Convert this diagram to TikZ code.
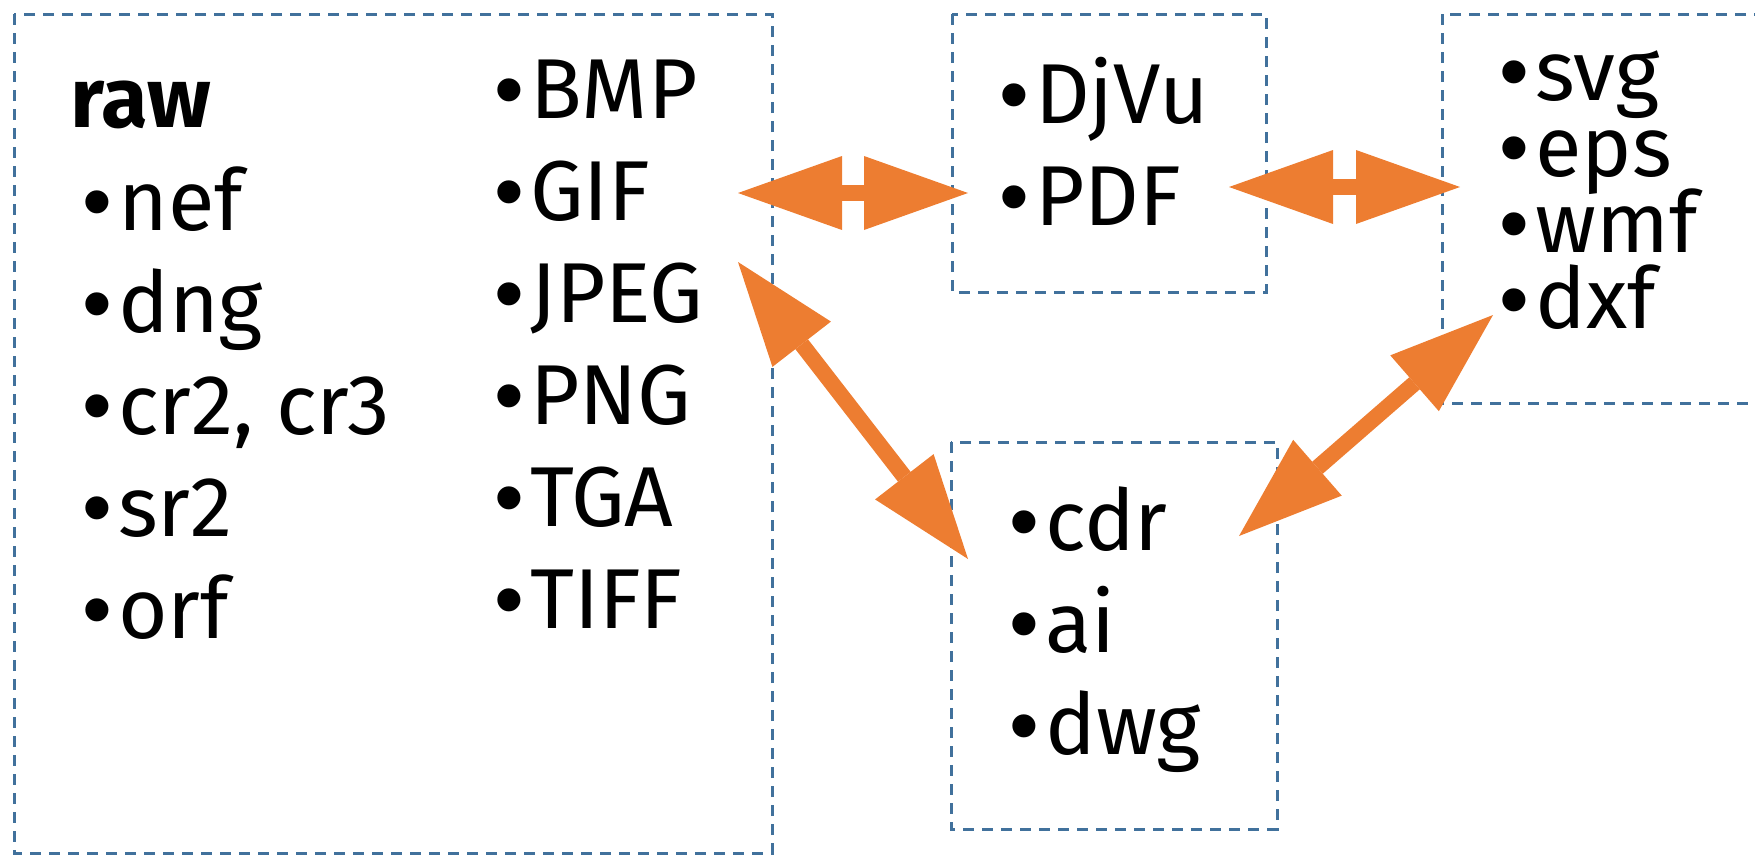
\documentclass[tikz,border=0pt]{standalone}
\usepackage{fontspec}
\setmainfont{Fira Sans}
\newfontfamily\bulletfont{Liberation Sans}
\usetikzlibrary{arrows.meta}
\definecolor{boxblue}{RGB}{65,113,156}
\definecolor{arroworange}{RGB}{237,125,49}
\newcommand\blt{\makebox[36pt][l]{\bulletfont •}}
\begin{document}
\begin{tikzpicture}[x=1pt,y=-1pt,
  frame/.style={draw=boxblue, line width=3pt, dash pattern=on 11pt off 8pt},
  item/.style={anchor=base west, inner sep=0pt, font=\fontsize{85}{102}\selectfont,
    text height=62pt, text depth=18pt},
  head/.tip={Triangle[length=104pt,width=74pt,line width=0pt]},
  link/.style={draw=arroworange, fill=arroworange, line width=16pt, head-head}
]
\useasboundingbox (0,0) rectangle (1755,854);
% frames
\draw[frame] (14,14) rectangle (772,853);
\draw[frame] (952,14) rectangle (1266,292);
\draw[frame] (1442,14) rectangle (1775,403);
\draw[frame] (951,442) rectangle (1277,829);
% arrow ends
\coordinate (a1s) at (738,193);
\coordinate (a1e) at (968,193);
\coordinate (a2s) at (1229,187);
\coordinate (a2e) at (1460,187);
\coordinate (a3s) at (738,262);
\coordinate (a3e) at (968,559);
\coordinate (a4s) at (1239,536);
\coordinate (a4e) at (1493,315);
\draw[link] (a1s) -- (a1e);
\draw[link] (a2s) -- (a2e);
\draw[link] (a3s) -- (a3e);
\draw[link] (a4s) -- (a4e);
% raw column
\node[item, font=\fontsize{85}{102}\selectfont\bfseries] (raw) at (70,127) {raw};
\foreach \t [count=\i] in {nef,dng,{cr2, cr3},sr2,orf}{
  \node[item] (L\i) at (82,{230+102*(\i-1)}) {\blt\t};
}
\foreach \t [count=\i] in {BMP,GIF,JPEG,PNG,TGA,TIFF}{
  \node[item] (R\i) at (494,{118+102*(\i-1)}) {\blt\t};
}
\node[item] (djvu) at (999,123) {\blt DjVu};
\node[item] (pdf) at (999,225) {\blt PDF};
\foreach \t [count=\i] in {svg,eps,wmf,dxf}{
  \node[item, text height=56pt, text depth=16pt] (V\i) at (1499,{100+76*(\i-1)}) {\blt\t};
}
\foreach \t [count=\i] in {cdr,ai,dwg}{
  \node[item] (C\i) at (1009,{550+102*(\i-1)}) {\blt\t};
}
\end{tikzpicture}
\end{document}
